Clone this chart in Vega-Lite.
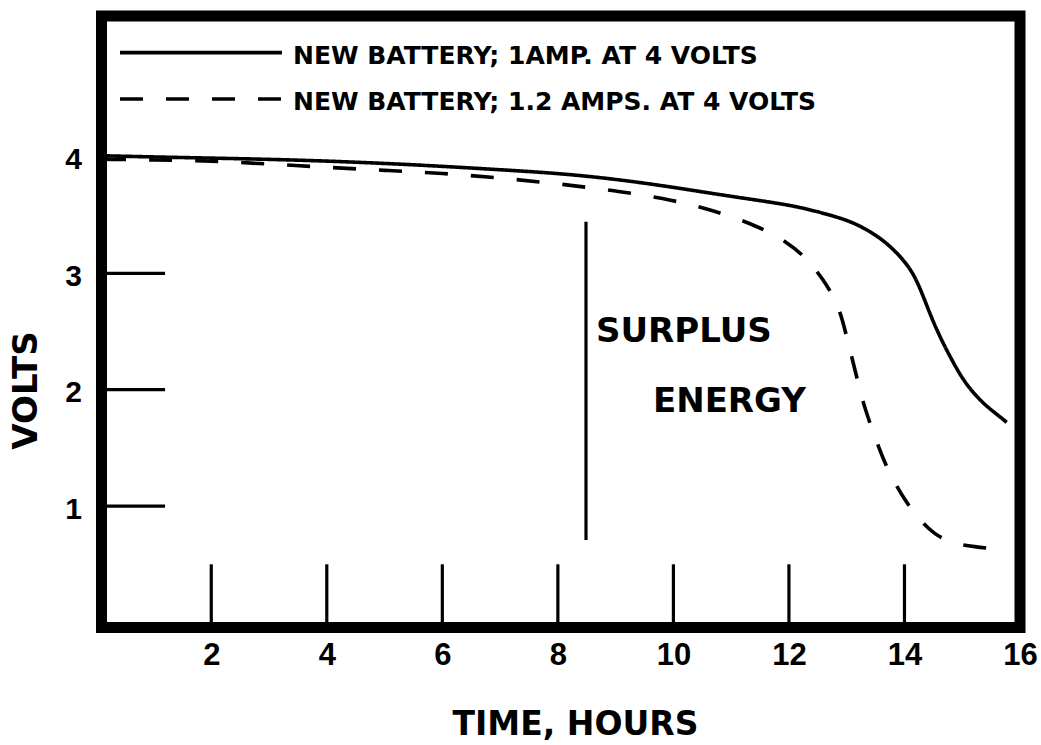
{
  "$schema": "https://vega.github.io/schema/vega-lite/v6.json",
  "width": 918.5,
  "height": 611.5,
  "autosize": {"type": "none"},
  "padding": {"left": 101.5, "top": 16, "right": 21, "bottom": 117.5},
  "background": "white",
  "config": {
    "view": {"stroke": "black", "strokeWidth": 11},
    "font": "DejaVu Sans"
  },
  "datasets": {
    "curves": [
      {"series": "1 AMP", "x": 0.13, "y": 4.01},
      {"series": "1 AMP", "x": 1, "y": 4.0},
      {"series": "1 AMP", "x": 2, "y": 3.99},
      {"series": "1 AMP", "x": 3, "y": 3.98},
      {"series": "1 AMP", "x": 4, "y": 3.965},
      {"series": "1 AMP", "x": 5, "y": 3.945},
      {"series": "1 AMP", "x": 6, "y": 3.92},
      {"series": "1 AMP", "x": 7, "y": 3.89},
      {"series": "1 AMP", "x": 8, "y": 3.86},
      {"series": "1 AMP", "x": 9, "y": 3.81},
      {"series": "1 AMP", "x": 10, "y": 3.74},
      {"series": "1 AMP", "x": 11, "y": 3.66},
      {"series": "1 AMP", "x": 12, "y": 3.59},
      {"series": "1 AMP", "x": 12.5, "y": 3.53},
      {"series": "1 AMP", "x": 13, "y": 3.46},
      {"series": "1 AMP", "x": 13.3, "y": 3.39},
      {"series": "1 AMP", "x": 13.59, "y": 3.3},
      {"series": "1 AMP", "x": 13.8, "y": 3.21},
      {"series": "1 AMP", "x": 13.99, "y": 3.11},
      {"series": "1 AMP", "x": 14.15, "y": 3.0},
      {"series": "1 AMP", "x": 14.28, "y": 2.86},
      {"series": "1 AMP", "x": 14.42, "y": 2.68},
      {"series": "1 AMP", "x": 14.56, "y": 2.51},
      {"series": "1 AMP", "x": 14.79, "y": 2.28},
      {"series": "1 AMP", "x": 15.02, "y": 2.08},
      {"series": "1 AMP", "x": 15.2, "y": 1.97},
      {"series": "1 AMP", "x": 15.37, "y": 1.88},
      {"series": "1 AMP", "x": 15.57, "y": 1.8},
      {"series": "1 AMP", "x": 15.77, "y": 1.72},
      {"series": "1.2 AMPS", "x": 0.13, "y": 3.98},
      {"series": "1.2 AMPS", "x": 1, "y": 3.975},
      {"series": "1.2 AMPS", "x": 2, "y": 3.965},
      {"series": "1.2 AMPS", "x": 3, "y": 3.94},
      {"series": "1.2 AMPS", "x": 4, "y": 3.91},
      {"series": "1.2 AMPS", "x": 5, "y": 3.885},
      {"series": "1.2 AMPS", "x": 6, "y": 3.86},
      {"series": "1.2 AMPS", "x": 7, "y": 3.82},
      {"series": "1.2 AMPS", "x": 8, "y": 3.77},
      {"series": "1.2 AMPS", "x": 9, "y": 3.71},
      {"series": "1.2 AMPS", "x": 10, "y": 3.63},
      {"series": "1.2 AMPS", "x": 10.7, "y": 3.54},
      {"series": "1.2 AMPS", "x": 11.45, "y": 3.41},
      {"series": "1.2 AMPS", "x": 12.0, "y": 3.26},
      {"series": "1.2 AMPS", "x": 12.3, "y": 3.13},
      {"series": "1.2 AMPS", "x": 12.58, "y": 2.96},
      {"series": "1.2 AMPS", "x": 12.87, "y": 2.72},
      {"series": "1.2 AMPS", "x": 13.0, "y": 2.45},
      {"series": "1.2 AMPS", "x": 13.12, "y": 2.22},
      {"series": "1.2 AMPS", "x": 13.24, "y": 1.97},
      {"series": "1.2 AMPS", "x": 13.36, "y": 1.77},
      {"series": "1.2 AMPS", "x": 13.5, "y": 1.58},
      {"series": "1.2 AMPS", "x": 13.65, "y": 1.38},
      {"series": "1.2 AMPS", "x": 13.82, "y": 1.21},
      {"series": "1.2 AMPS", "x": 14.02, "y": 1.04},
      {"series": "1.2 AMPS", "x": 14.25, "y": 0.89},
      {"series": "1.2 AMPS", "x": 14.51, "y": 0.76},
      {"series": "1.2 AMPS", "x": 14.82, "y": 0.68},
      {"series": "1.2 AMPS", "x": 15.22, "y": 0.65},
      {"series": "1.2 AMPS", "x": 15.6, "y": 0.63},
      {"series": "1.2 AMPS", "x": 15.77, "y": 0.62}
    ],
    "ticks": [
      {"x": 2, "x2": 2, "y": -0.05, "y2": 0.5},
      {"x": 4, "x2": 4, "y": -0.05, "y2": 0.5},
      {"x": 6, "x2": 6, "y": -0.05, "y2": 0.5},
      {"x": 8, "x2": 8, "y": -0.05, "y2": 0.5},
      {"x": 10, "x2": 10, "y": -0.05, "y2": 0.5},
      {"x": 12, "x2": 12, "y": -0.05, "y2": 0.5},
      {"x": 14, "x2": 14, "y": -0.05, "y2": 0.5},
      {"x": 0.1, "x2": 1.2, "y": 1, "y2": 1},
      {"x": 0.1, "x2": 1.2, "y": 2, "y2": 2},
      {"x": 0.1, "x2": 1.2, "y": 3, "y2": 3},
      {"x": 8.487, "x2": 8.487, "y": 0.708, "y2": 3.443}
    ],
    "legendLines": [
      {"series": "1 AMP", "x": 0.42, "x2": 3.224, "y": 4.896, "y2": 4.896},
      {"series": "1.2 AMPS", "x": 0.42, "x2": 3.21, "y": 4.498, "y2": 4.498}
    ],
    "legendText": [
      {"x": 3.415, "y": 4.869, "label": "NEW  BATTERY;  1AMP. AT 4 VOLTS"},
      {"x": 3.415, "y": 4.469, "label": "NEW  BATTERY;  1.2 AMPS. AT 4 VOLTS"}
    ],
    "notes": [
      {"x": 8.66, "y": 2.498, "label": "SURPLUS"},
      {"x": 9.646, "y": 1.892, "label": "ENERGY"}
    ]
  },
  "encoding": {
    "x": {
      "field": "x", "type": "quantitative",
      "scale": {"domain": [0.1, 16], "nice": false, "zero": false},
      "axis": {
        "title": "TIME, HOURS",
        "values": [2, 4, 6, 8, 10, 12, 14, 16],
        "domain": false, "ticks": false, "grid": false,
        "labelFont": "Liberation Sans", "labelFontWeight": "bold", "labelFontSize": 31,
        "labelColor": "black", "labelPadding": 13, "labelFlush": false, "labelOverlap": false,
        "labelBaseline": "top",
        "titleFont": "DejaVu Sans", "titleFontWeight": "bold", "titleFontSize": 33,
        "titleColor": "black", "titleX": 473.5, "titleY": 97, "titleAlign": "center",
        "titleBaseline": "middle"
      }
    },
    "y": {
      "field": "y", "type": "quantitative",
      "scale": {"domain": [-0.043, 5.211], "nice": false, "zero": false},
      "axis": {
        "title": "VOLTS",
        "values": [1, 2, 3, 4],
        "domain": false, "ticks": false, "grid": false,
        "labelFont": "Liberation Sans", "labelFontWeight": "bold", "labelFontSize": 30,
        "labelColor": "black", "labelPadding": 20, "labelFlush": false, "labelOverlap": false,
        "labelBaseline": "middle", "labelOffset": 3,
        "titleFont": "DejaVu Sans", "titleFontWeight": "bold", "titleFontSize": 34,
        "titleColor": "black", "titleAngle": 270, "titleX": -74.8, "titleY": 374,
        "titleAlign": "center", "titleBaseline": "middle"
      }
    }
  },
  "layer": [
    {
      "data": {"name": "curves"},
      "mark": {"type": "line", "interpolate": "basis", "color": "black", "strokeWidth": 3.6, "strokeCap": "butt"},
      "encoding": {
        "strokeDash": {
          "field": "series", "type": "nominal",
          "scale": {"domain": ["1 AMP", "1.2 AMPS"], "range": [[1, 0], [23, 23]]},
          "legend": null
        },
        "detail": {"field": "series"}
      }
    },
    {
      "data": {"name": "ticks"},
      "mark": {"type": "rule", "color": "black", "strokeWidth": 3.2},
      "encoding": {
        "x2": {"field": "x2"},
        "y2": {"field": "y2"}
      }
    },
    {
      "data": {"name": "legendLines"},
      "mark": {"type": "rule", "color": "black", "strokeWidth": 3.6, "strokeCap": "butt"},
      "encoding": {
        "x2": {"field": "x2"},
        "y2": {"field": "y2"},
        "strokeDash": {
          "field": "series", "type": "nominal",
          "scale": {"domain": ["1 AMP", "1.2 AMPS"], "range": [[1, 0], [23, 23]]},
          "legend": null
        }
      }
    },
    {
      "data": {"name": "legendText"},
      "mark": {"type": "text", "align": "left", "baseline": "middle", "font": "DejaVu Sans", "fontWeight": "bold", "fontSize": 25, "color": "black"},
      "encoding": {
        "text": {"field": "label"}
      }
    },
    {
      "data": {"name": "notes"},
      "mark": {"type": "text", "align": "left", "baseline": "middle", "font": "DejaVu Sans", "fontWeight": "bold", "fontSize": 34, "color": "black"},
      "encoding": {
        "text": {"field": "label"}
      }
    }
  ]
}
